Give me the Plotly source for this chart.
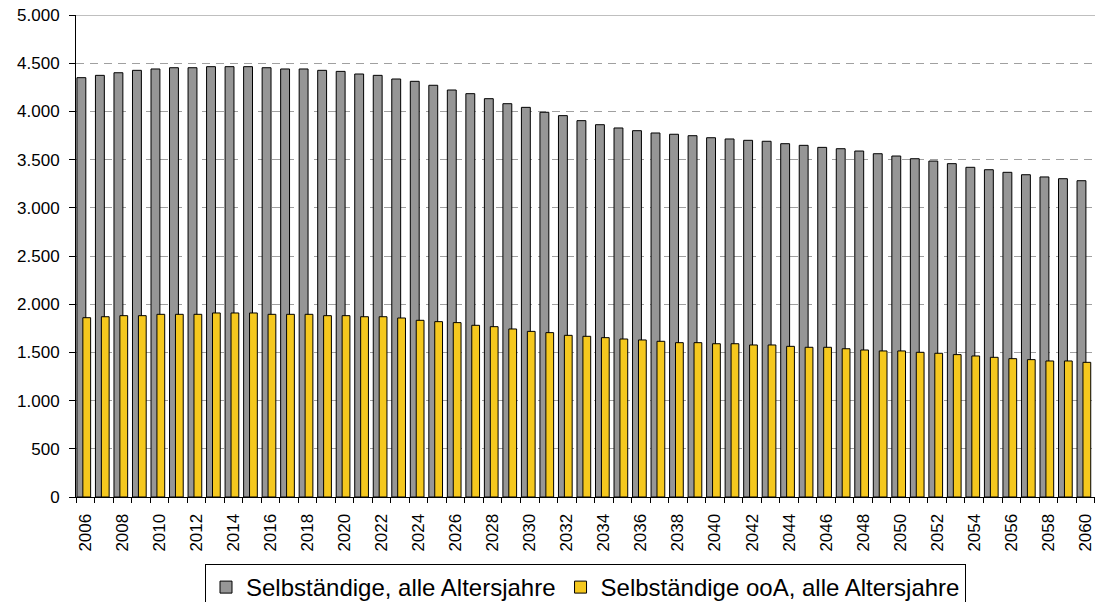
import plotly.graph_objects as go

# Jahre und Werte (in Tausend)
jahre = list(range(2006, 2061))

selbstaendige_alle = [
    4350, 4374, 4401, 4426, 4440, 4453, 4453, 4464, 4464, 4464,
    4453, 4440, 4440, 4426, 4415, 4388, 4374, 4336, 4312, 4271,
    4222, 4184, 4132, 4080, 4042, 3991, 3956, 3904, 3862, 3828,
    3800, 3776, 3763, 3748, 3727, 3714, 3700, 3690, 3665, 3648,
    3627, 3613, 3589, 3561, 3537, 3509, 3485, 3458, 3420, 3395,
    3368, 3343, 3320, 3302, 3281,
]

selbstaendige_ooa = [
    1860, 1870, 1881, 1881, 1895, 1895, 1895, 1909, 1909, 1909,
    1895, 1895, 1895, 1881, 1881, 1870, 1870, 1857, 1833, 1819,
    1809, 1781, 1767, 1743, 1718, 1705, 1677, 1667, 1653, 1639,
    1629, 1615, 1601, 1601, 1590, 1590, 1577, 1577, 1563, 1553,
    1553, 1538, 1525, 1515, 1515, 1501, 1491, 1477, 1463, 1449,
    1435, 1425, 1411, 1411, 1397,
]

tick_jahre = jahre[::2]
tick_text = [str(j) for j in tick_jahre]
y_ticks = list(range(0, 5001, 500))

FONT = "Liberation Sans, Arial, sans-serif"

fig = go.Figure()
fig.add_trace(go.Bar(
    x=jahre, y=selbstaendige_alle,
    name="Selbständige, alle Altersjahre",
    marker=dict(color="#969696", line=dict(color="black", width=1)),
    width=0.48, offset=-0.45,
))
fig.add_trace(go.Bar(
    x=jahre, y=selbstaendige_ooa,
    name="Selbständige ooA, alle Altersjahre",
    marker=dict(color="#F5C81E", line=dict(color="black", width=1)),
    width=0.42, offset=-0.13,
))

fig.update_layout(
    width=1095, height=602,
    margin=dict(l=76, r=0, t=15, b=105, autoexpand=False),
    barmode="overlay",
    separators=",.",
    plot_bgcolor="white", paper_bgcolor="white",
    font=dict(family=FONT, color="black"),
    showlegend=True,
    legend=dict(
        orientation="h", x=0.5, xanchor="center", y=-0.139, yanchor="top",
        bordercolor="black", borderwidth=1,
        font=dict(size=24, family=FONT),
        traceorder="normal",
    ),
)

fig.update_xaxes(
    range=[2005.5, 2060.52],
    tickmode="array", tickvals=tick_jahre, ticktext=tick_text,
    tickangle=-90, ticks="", tickfont=dict(size=17),
    ticklabeloverflow="allow", ticklabelstandoff=9,
    showline=True, linecolor="black", linewidth=1,
    showgrid=False, zeroline=False,
    minor=dict(
        tickvals=[j - 0.5 for j in jahre] + [jahre[-1] + 0.5],
        ticks="outside", ticklen=5, tickcolor="black", tickwidth=1,
        showgrid=False,
    ),
)

fig.update_yaxes(
    range=[0, 5000],
    tickmode="array", tickvals=y_ticks, tickformat=",.0f",
    ticks="outside", ticklen=6, tickcolor="black",
    tickfont=dict(size=17), ticklabelstandoff=6,
    showline=True, linecolor="black", linewidth=1,
    showgrid=True, gridcolor="#a0a0a0", gridwidth=1, griddash="8px,6px",
    zeroline=False,
)

# durchgezogene Linie am oberen Rand der Zeichenfläche
fig.add_shape(
    type="line", xref="paper", yref="y",
    x0=0, x1=1, y0=5000, y1=5000,
    line=dict(color="#808080", width=1),
)

fig.write_html("out.html")
